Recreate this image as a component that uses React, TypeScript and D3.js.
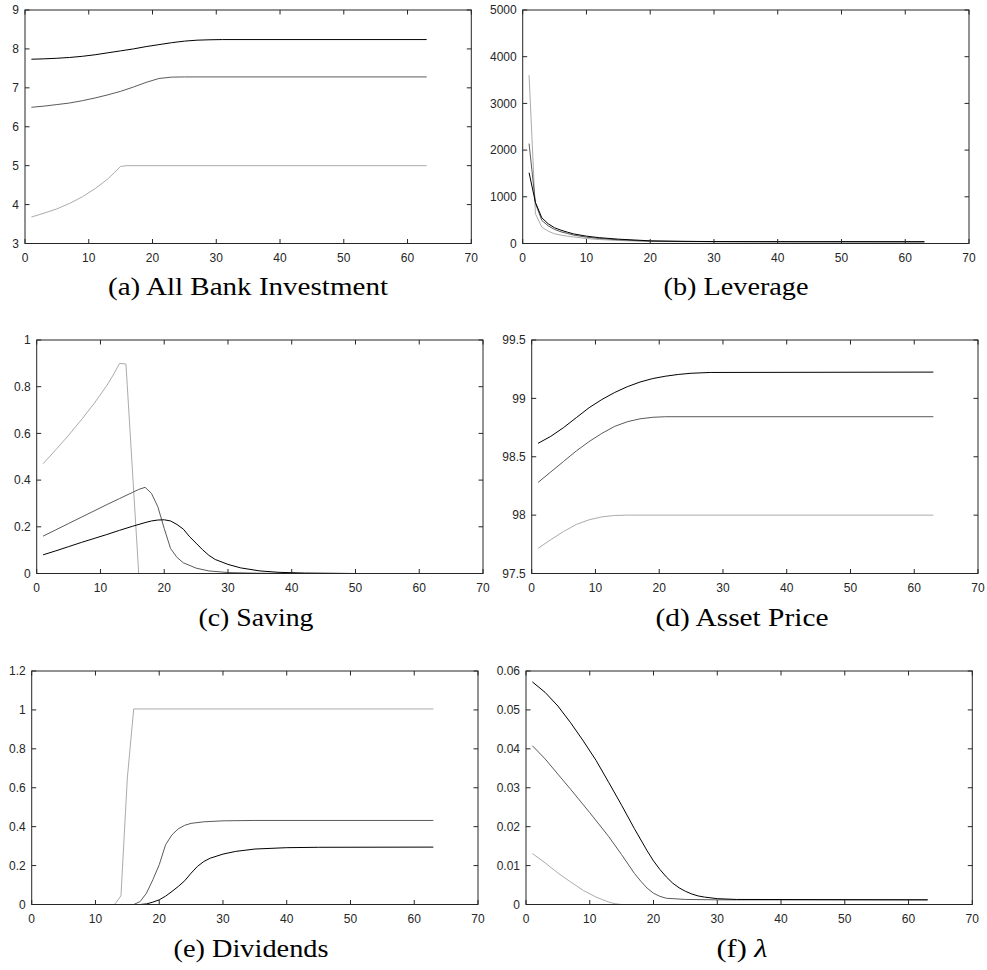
import React from 'react';
import * as d3 from 'd3';

type Pt = [number, number];

const W = 987;
const H = 970;
const AXIS = '#262626';
const BLACK = '#000000';
const MID = '#5a5a5a';
const LIGHT = '#ababab';

const xTicks = [0, 10, 20, 30, 40, 50, 60, 70];

// (a) all bank investment
const investTicks = [3, 4, 5, 6, 7, 8, 9];
const investBlack: Pt[] = [[1, 7.735], [3, 7.745], [5, 7.76], [7, 7.78], [9, 7.81], [11, 7.85], [13, 7.9], [15, 7.95], [17, 8.0], [19, 8.06], [21, 8.11], [23, 8.16], [25, 8.2], [27, 8.225], [29, 8.235], [31, 8.24], [63, 8.24]];
const investMid: Pt[] = [[1, 6.5], [3, 6.53], [5, 6.57], [7, 6.61], [9, 6.67], [11, 6.74], [13, 6.82], [15, 6.91], [17, 7.02], [19, 7.14], [21, 7.24], [23, 7.275], [25, 7.28], [63, 7.28]];
const investLight: Pt[] = [[1, 3.68], [3, 3.78], [5, 3.89], [7, 4.03], [9, 4.2], [11, 4.41], [13, 4.66], [14, 4.82], [15, 4.98], [16, 5.0], [63, 5.0]];

// (b) leverage
const levTicks = [0, 1000, 2000, 3000, 4000, 5000];
const levBlack: Pt[] = [[1, 1516], [2, 880], [3, 550], [4, 422], [5, 336], [6, 285], [7, 243], [8, 205], [10, 157], [12, 125], [15, 93], [20, 57], [25, 46], [30, 42], [40, 39], [63, 38]];
const levMid: Pt[] = [[1, 2140], [2, 860], [3, 494], [4, 379], [5, 300], [6, 250], [7, 215], [8, 180], [10, 136], [12, 108], [15, 79], [20, 50], [30, 40], [63, 37]];
const levLight: Pt[] = [[1, 3605], [2, 637], [3, 350], [4, 265], [5, 207], [6, 180], [7, 157], [8, 140], [10, 107], [12, 85], [15, 64], [20, 42], [30, 37], [63, 36]];

// (c) saving
const savTicks = [0, 0.2, 0.4, 0.6, 0.8, 1];
const savBlack: Pt[] = [[1, 0.08], [3, 0.097], [5, 0.115], [7, 0.133], [9, 0.15], [11, 0.167], [13, 0.185], [15, 0.202], [17, 0.218], [18, 0.225], [19, 0.229], [20, 0.23], [21, 0.225], [22, 0.21], [23, 0.19], [24, 0.157], [25, 0.13], [26, 0.102], [27, 0.078], [28, 0.06], [30, 0.039], [32, 0.024], [35, 0.011], [38, 0.005], [42, 0.002], [50, 0], [63, 0]];
const savMid: Pt[] = [[1, 0.16], [3, 0.187], [5, 0.214], [7, 0.241], [9, 0.268], [11, 0.295], [13, 0.321], [15, 0.347], [16, 0.36], [17, 0.369], [18, 0.343], [19, 0.286], [20, 0.193], [21, 0.107], [22, 0.069], [23, 0.046], [25, 0.023], [27, 0.011], [30, 0.004], [35, 0.001], [40, 0], [63, 0]];
const savLight: Pt[] = [[1, 0.47], [3, 0.53], [5, 0.592], [7, 0.658], [9, 0.728], [11, 0.805], [12, 0.85], [13, 0.9], [14, 0.897], [16, 0], [63, 0]];

// (d) asset price
const priceTicks = [97.5, 98, 98.5, 99, 99.5];
const priceBlack: Pt[] = [[1, 98.615], [3, 98.675], [5, 98.75], [7, 98.835], [9, 98.92], [11, 98.99], [13, 99.05], [15, 99.1], [17, 99.14], [19, 99.17], [21, 99.19], [23, 99.205], [25, 99.215], [28, 99.222], [63, 99.225]];
const priceMid: Pt[] = [[1, 98.28], [3, 98.37], [5, 98.46], [7, 98.55], [9, 98.63], [11, 98.7], [13, 98.76], [15, 98.8], [17, 98.825], [19, 98.838], [21, 98.843], [63, 98.843]];
const priceLight: Pt[] = [[1, 97.715], [3, 97.79], [5, 97.86], [7, 97.92], [9, 97.96], [11, 97.985], [13, 97.997], [15, 98.0], [63, 98.0]];

// (e) dividends
const divTicks = [0, 0.2, 0.4, 0.6, 0.8, 1, 1.2];
const divBlack: Pt[] = [[1, 0], [17, 0], [18, 0.003], [19, 0.012], [20, 0.024], [21, 0.043], [22, 0.067], [23, 0.093], [24, 0.122], [25, 0.161], [26, 0.196], [27, 0.221], [28, 0.238], [30, 0.259], [32, 0.273], [35, 0.285], [40, 0.292], [45, 0.294], [63, 0.295]];
const divMid: Pt[] = [[1, 0], [16, 0], [17, 0.015], [18, 0.058], [19, 0.127], [20, 0.204], [21, 0.307], [22, 0.358], [23, 0.389], [24, 0.407], [25, 0.417], [27, 0.425], [30, 0.43], [35, 0.432], [63, 0.432]];
const divLight: Pt[] = [[1, 0], [13, 0], [14, 0.045], [15, 0.65], [16, 1.005], [63, 1.005]];

// (f) lambda
const lamTicks = [0, 0.01, 0.02, 0.03, 0.04, 0.05, 0.06];
const lamBlack: Pt[] = [[1, 0.0572], [3, 0.0545], [5, 0.051], [7, 0.0467], [9, 0.042], [11, 0.037], [13, 0.0313], [15, 0.0255], [17, 0.0195], [19, 0.0138], [20, 0.0112], [21, 0.009], [22, 0.0071], [23, 0.0055], [24, 0.0043], [25, 0.0034], [26, 0.0027], [27, 0.0022], [28, 0.0019], [30, 0.0015], [33, 0.0013], [63, 0.0012]];
const lamMid: Pt[] = [[1, 0.0408], [3, 0.0374], [5, 0.0335], [7, 0.0296], [10, 0.0236], [13, 0.0174], [15, 0.0128], [17, 0.008], [18, 0.006], [19, 0.0042], [20, 0.0029], [21, 0.0021], [22, 0.0016], [25, 0.0013], [30, 0.0012], [63, 0.0012]];
const lamLight: Pt[] = [[1, 0.0131], [3, 0.0107], [5, 0.0081], [7, 0.0058], [9, 0.0036], [11, 0.0019], [13, 0.0006], [14, 0.0002], [15, 0], [63, 0]];

const fmt = (v: number) => String(+v.toFixed(4));

function Panel(props: any) {
  const { left, top, yTicks, lines, caption, capX, capW, capY, italic } = props;
  const w = 446.3;
  const h = 233.5;
  const x = d3.scaleLinear().domain([0, 70]).range([left, left + w]);
  const y = d3.scaleLinear().domain([yTicks[0], yTicks[yTicks.length - 1]]).range([top + h, top]);
  const line = d3.line<Pt>().x(d => x(d[0])).y(d => y(d[1]));
  const tl = 4.5;
  return (
    <g>
      {lines.map((l: any, i: number) => (
        <path key={i} d={line(l.data) || ''} fill="none" stroke={l.color} strokeWidth={1} />
      ))}
      <rect x={left} y={top} width={w} height={h} fill="none" stroke={AXIS} strokeWidth={1} />
      {xTicks.map(t => (
        <g key={'x' + t}>
          <line x1={x(t)} x2={x(t)} y1={top + h} y2={top + h - tl} stroke={AXIS} />
          <line x1={x(t)} x2={x(t)} y1={top} y2={top + tl} stroke={AXIS} />
          <text x={x(t)} y={top + h + 18.5} textAnchor="middle" fontFamily="'Liberation Sans', Arial, sans-serif" fontSize={12} fill={AXIS}>{t}</text>
        </g>
      ))}
      {yTicks.map((t: number) => (
        <g key={'y' + t}>
          <line x1={left} x2={left + tl} y1={y(t)} y2={y(t)} stroke={AXIS} />
          <line x1={left + w} x2={left + w - tl} y1={y(t)} y2={y(t)} stroke={AXIS} />
          <text x={left - 6} y={y(t) + 4.3} textAnchor="end" fontFamily="'Liberation Sans', Arial, sans-serif" fontSize={12} fill={AXIS}>{fmt(t)}</text>
        </g>
      ))}
      <text x={capX - capW / 2} y={capY} textLength={capW} lengthAdjust="spacingAndGlyphs" fontFamily="'Liberation Serif', 'Times New Roman', serif" fontSize={25} fill="#000">
        {caption}
        {italic ? <tspan fontStyle="italic">{italic}</tspan> : null}
      </text>
    </g>
  );
}

export default function App() {
  const three = (b: Pt[], m: Pt[], l: Pt[]) => [
    { data: l, color: LIGHT },
    { data: m, color: MID },
    { data: b, color: BLACK },
  ];
  return (
    <svg width={W} height={H} style={{ position: 'absolute', left: 0, top: 0, background: '#fff' }}>
      <Panel left={25} top={10} yTicks={investTicks} lines={three(investBlack, investMid, investLight)} caption="(a) All Bank Investment" capX={248} capW={280} capY={295} />
      <Panel left={522.7} top={10} yTicks={levTicks} lines={three(levBlack, levMid, levLight)} caption="(b) Leverage" capX={736} capW={145} capY={295} />
      <Panel left={36.7} top={340} yTicks={savTicks} lines={three(savBlack, savMid, savLight)} caption="(c) Saving" capX={256} capW={115} capY={626} />
      <Panel left={531.7} top={340} yTicks={priceTicks} lines={three(priceBlack, priceMid, priceLight)} caption="(d) Asset Price" capX={742} capW={173} capY={626} />
      <Panel left={31.7} top={671} yTicks={divTicks} lines={three(divBlack, divMid, divLight)} caption="(e) Dividends" capX={251} capW={155} capY={957} />
      <Panel left={526} top={671} yTicks={lamTicks} lines={three(lamBlack, lamMid, lamLight)} caption="(f)  " italic="λ" capX={742} capW={51} capY={957} />
    </svg>
  );
}
